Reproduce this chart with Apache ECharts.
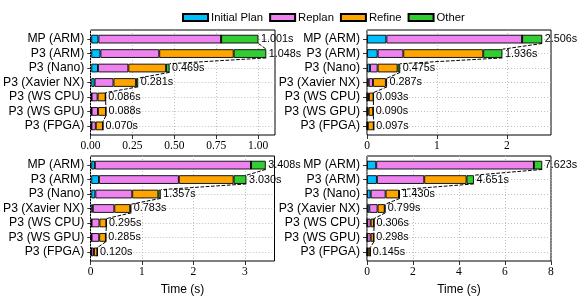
<!DOCTYPE html>
<html>
<head>
<meta charset="utf-8">
<script src="https://cdn.jsdelivr.net/npm/echarts@6/dist/echarts.min.js"></script>
<style>html,body{margin:0;padding:0;background:#fff;}#c{width:581px;height:299px;}</style>
</head>
<body>
<div id="c"></div>
<script>
const categories = ['MP (ARM)', 'P3 (ARM)', 'P3 (Nano)', 'P3 (Xavier NX)', 'P3 (WS CPU)', 'P3 (WS GPU)', 'P3 (FPGA)'];
const seriesNames = ['Initial Plan', 'Replan', 'Refine', 'Other'];

// top-left panel
const tlInitial = [0.043, 0.055, 0.040, 0.020, 0.002, 0.002, 0.001];
const tlReplan  = [0.735, 0.352, 0.182, 0.113, 0.036, 0.038, 0.026];
const tlRefine  = [0.000, 0.446, 0.226, 0.135, 0.048, 0.048, 0.043];
const tlOther   = [0.223, 0.195, 0.021, 0.013, 0.000, 0.000, 0.000];
const tlTotal   = [1.001, 1.048, 0.469, 0.281, 0.086, 0.088, 0.070];
const tlTicks   = [0, 0.25, 0.5, 0.75, 1.0];
const tlTickLabels = ['0.00', '0.25', '0.50', '0.75', '1.00'];

// top-right panel
const trInitial = [0.277, 0.152, 0.043, 0.025, 0.003, 0.003, 0.002];
const trReplan  = [1.942, 0.367, 0.109, 0.060, 0.025, 0.020, 0.010];
const trRefine  = [0.000, 1.143, 0.286, 0.185, 0.065, 0.067, 0.085];
const trOther   = [0.287, 0.274, 0.037, 0.017, 0.000, 0.000, 0.000];
const trTotal   = [2.506, 1.936, 0.475, 0.287, 0.093, 0.090, 0.097];
const trTicks   = [0, 1, 2];
const trTickLabels = ['0', '1', '2'];

// bottom-left panel
const blInitial = [0.070, 0.150, 0.080, 0.030, 0.005, 0.005, 0.003];
const blReplan  = [3.050, 1.560, 0.720, 0.420, 0.155, 0.150, 0.050];
const blRefine  = [0.000, 1.070, 0.510, 0.310, 0.135, 0.130, 0.067];
const blOther   = [0.288, 0.250, 0.047, 0.023, 0.000, 0.000, 0.000];
const blTotal   = [3.408, 3.030, 1.357, 0.783, 0.295, 0.285, 0.120];
const blTicks   = [0, 1, 2, 3];
const blTickLabels = ['0', '1', '2', '3'];

// bottom-right panel
const brInitial = [0.400, 0.430, 0.160, 0.100, 0.010, 0.010, 0.005];
const brReplan  = [6.860, 2.060, 0.650, 0.360, 0.150, 0.150, 0.030];
const brRefine  = [0.000, 1.840, 0.580, 0.310, 0.146, 0.138, 0.110];
const brOther   = [0.363, 0.321, 0.040, 0.029, 0.000, 0.000, 0.000];
const brTotal   = [7.623, 4.651, 1.430, 0.799, 0.306, 0.298, 0.145];
const brTicks   = [0, 2, 4, 6, 8];
const brTickLabels = ['0', '2', '4', '6', '8'];

const colors = ['#00BFFF', '#EE82EE', '#FFA500', '#32CD32'];
const SANS = '"Liberation Sans", Arial, sans-serif';
const SERIF = '"Liberation Serif", "Times New Roman", serif';

const panels = [
  {segs: [tlInitial, tlReplan, tlRefine, tlOther], total: tlTotal, ticks: tlTicks, tickLabels: tlTickLabels, left: 90.5, top: 30, width: 184.5, height: 105, xname: ''},
  {segs: [trInitial, trReplan, trRefine, trOther], total: trTotal, ticks: trTicks, tickLabels: trTickLabels, left: 367, top: 30, width: 184, height: 105, xname: ''},
  {segs: [blInitial, blReplan, blRefine, blOther], total: blTotal, ticks: blTicks, tickLabels: blTickLabels, left: 90.5, top: 156, width: 184, height: 105, xname: 'Time (s)'},
  {segs: [brInitial, brReplan, brRefine, brOther], total: brTotal, ticks: brTicks, tickLabels: brTickLabels, left: 367, top: 156, width: 184, height: 105, xname: 'Time (s)'}
];

const grid = [], xAxis = [], yAxis = [], series = [];
panels.forEach((p, k) => {
  const xmax = Math.max(...p.total) * 1.05;
  const step = p.height / 7.26;
  grid.push({left: p.left, top: p.top, width: p.width, height: p.height, show: true, borderColor: '#000', borderWidth: 1, backgroundColor: 'transparent', containLabel: false});
  grid.push({left: p.left, top: p.top + 0.63 * step, width: p.width, height: 6 * step, containLabel: false});
  const labelMap = {};
  p.ticks.forEach((t, i) => { labelMap[t] = p.tickLabels[i]; });
  xAxis.push({
    gridIndex: 2 * k, type: 'value', min: 0, max: xmax,
    axisLine: {show: false},
    axisTick: {show: true, length: 4, customValues: p.ticks, lineStyle: {color: '#000', width: 0.8}},
    axisLabel: {customValues: p.ticks, margin: 5, color: '#000', fontFamily: SERIF, fontSize: 11.5,
      formatter: v => { for (const t of p.ticks) { if (Math.abs(t - v) < 1e-9) return labelMap[t]; } return ''; }},
    splitLine: {show: true, lineStyle: {color: '#b0b0b0', width: 0.8, type: [1, 2]}},
    name: p.xname, nameLocation: 'middle', nameGap: 23,
    nameTextStyle: {color: '#000', fontFamily: SANS, fontSize: 12}
  });
  xAxis.push({gridIndex: 2 * k + 1, type: 'value', min: 0, max: xmax, show: false});
  yAxis.push({gridIndex: 2 * k, type: 'value', min: 0, max: 1, show: false});
  yAxis.push({
    gridIndex: 2 * k + 1, type: 'category', data: categories, inverse: true, boundaryGap: false,
    axisLine: {show: false},
    axisTick: {show: true, interval: 0, length: 4, alignWithLabel: true, lineStyle: {color: '#000', width: 0.8}},
    axisLabel: {interval: 0, hideOverlap: false, margin: 7, color: '#000', fontFamily: SANS, fontSize: 12.2},
    splitLine: {show: true, interval: 0, lineStyle: {color: '#b0b0b0', width: 0.8, type: [1, 2]}}
  });
  p.segs.forEach((arr, j) => {
    series.push({
      type: 'bar', name: seriesNames[j], stack: 'p' + k,
      xAxisIndex: 2 * k + 1, yAxisIndex: 2 * k + 1,
      data: arr, barWidth: 0.6 * step, clip: false,
      itemStyle: {color: colors[j], borderColor: '#000', borderWidth: 0.9},
      emphasis: {disabled: true}
    });
  });
  const tot = p.total;
  series.push({
    type: 'custom', xAxisIndex: 2 * k + 1, yAxisIndex: 2 * k + 1, clip: false, z: 10,
    data: tot.map((t, i) => [t, i, i < tot.length - 1 ? tot[i + 1] : NaN]),
    encode: {x: 0, y: 1},
    renderItem: (params, api) => {
      const i = params.dataIndex;
      const t = api.value(0);
      const pt = api.coord([t, i]);
      const children = [{
        type: 'text',
        style: {text: t.toFixed(3) + 's', x: pt[0] + 2.5, y: pt[1], fill: '#000', font: '10.8px ' + SANS, verticalAlign: 'middle', align: 'left'}
      }];
      const nt = api.value(2);
      if (!isNaN(nt)) {
        const np = api.coord([nt, i + 1]);
        const s = np[1] - pt[1];
        children.push({
          type: 'line',
          shape: {x1: pt[0], y1: pt[1] + 0.3 * s, x2: np[0], y2: np[1] - 0.3 * s},
          style: {stroke: '#000', lineWidth: 1, lineDash: [3.7, 1.6], fill: null}
        });
      }
      return {type: 'group', children: children};
    }
  });
});

const chart = echarts.init(document.getElementById('c'), null, {renderer: 'canvas'});
chart.setOption({
  animation: false,
  backgroundColor: '#fff',
  textStyle: {fontFamily: SANS},
  legend: {
    data: seriesNames, left: 177, top: 7, itemWidth: 25, itemHeight: 7, itemGap: 6,
    icon: 'rect', textStyle: {color: '#000', fontFamily: SANS, fontSize: 11.3, padding: [0, 0, 0, -2]},
    selectedMode: false
  },
  grid: grid, xAxis: xAxis, yAxis: yAxis, series: series
});
</script>
</body>
</html>
